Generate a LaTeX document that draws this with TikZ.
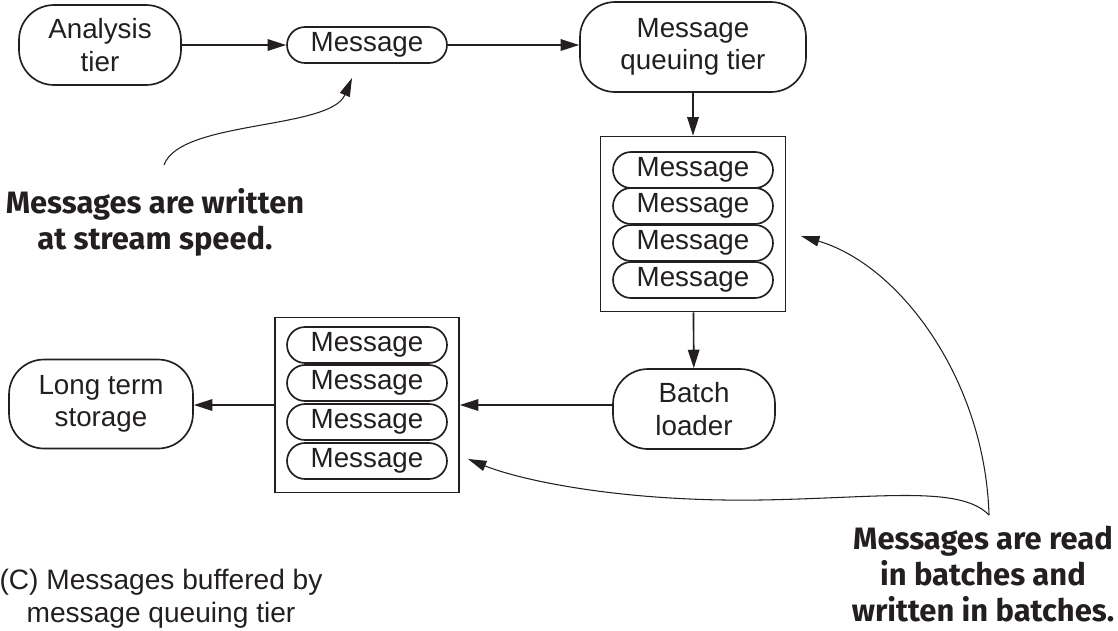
\documentclass[tikz,border=0pt]{standalone}
\usepackage{fontspec}
\setmainfont{Liberation Sans}
\newfontfamily\notefont{Fira Sans}
\usetikzlibrary{arrows.meta}
\definecolor{ink}{HTML}{231F20}

\begin{document}
\begin{tikzpicture}[x=0.02cm, y=-0.02cm, line width=0.95pt, color=ink,
    tier/.style={draw, rounded corners=0.7cm, align=center, inner sep=0pt,
        font=\fontsize{15.8}{18.5}\selectfont},
    msg/.style={draw, rounded corners=0.36cm, minimum width=3.2cm,
        minimum height=0.72cm, inner sep=0pt, font=\fontsize{15.8}{18.5}\selectfont},
    buffer/.style={draw, minimum width=3.7cm, minimum height=3.5cm, inner sep=0pt},
    note/.style={align=center, font=\notefont\bfseries\fontsize{17.6}{20.6}\selectfont},
    arr/.style={-{Triangle[length=10.5pt,width=6.5pt]}},
    callout/.style={line width=0.6pt, -{Triangle[length=10.5pt,width=6pt]}}]
                \useasboundingbox (0,0) rectangle (1118,630);

                % 上段:Analysis tier, Message, Message queuing tier
                \node[tier, minimum width=3.24cm, minimum height=1.6cm] (analysis) at (100,45) {Analysis\\tier};
                \node[msg] (msg) at (367,45) {Message};
                \node[tier, minimum width=4.52cm, minimum height=1.8cm] (queue) at (693,47) {Message\\queuing tier};

                % キューのバッファ(4つのMessage)
                \node[buffer] (buf1) at (693,224) {};
                \foreach \y [count=\i] in {170,206,243,280}
                    \node[msg] (q\i) at (693,\y) {Message};

                % Batch loader
                \node[tier, minimum width=3.24cm, minimum height=1.6cm] (batch) at (694,409) {Batch\\loader};

                % 書き出し側のバッファ(4つのMessage)
                \node[buffer, minimum width=3.68cm] (buf2) at (367,405) {};
                \foreach \y [count=\i] in {345,383,422,461}
                    \node[msg] (s\i) at (367,\y) {Message};

                % Long term storage
                \node[tier, minimum width=3.68cm, minimum height=1.78cm] (storage) at (101,404) {Long term\\storage};

                % 矢印
                \draw[arr] (analysis.east) -- (msg.west);
                \draw[arr] (msg.east) -- (msg.east -| queue.west);
                \draw[arr] (queue) -- (buf1);
                \draw[arr] (buf1) -- (batch);
                \draw[arr] (batch.west |- buf2.east) -- (buf2.east);
                \draw[arr] (buf2.west) -- (buf2.west -| storage.east);

                % 説明文
                \node[note] (wnote) at (155,222) {Messages are written\\at stream speed.};
                \node[note] (rnote) at (983,574) {Messages are read\\in batches and\\written in batches.};
                \node[align=center, font=\fontsize{16}{18.8}\selectfont] (caption) at (161,599) {(C) Messages buffered by\\message queuing tier};

                % 説明文からの曲線矢印
                \coordinate (wtail) at (164,165);
                \coordinate (wtip) at (352,78);
                \draw[callout] (wtail) .. controls (180,120) and (330,130) .. (wtip);
                \coordinate (rtip) at (989,515);
                \coordinate (rtop) at (801,236);
                \coordinate (rlow) at (468,459);
                \draw[callout] (rtip) .. controls (985,380) and (900,265) .. (rtop);
                \draw[callout] (rtip) .. controls (960,485) and (880,498) .. (760,500)
                    .. controls (620,502) and (520,480) .. (rlow);
            \end{tikzpicture}
\end{document}
